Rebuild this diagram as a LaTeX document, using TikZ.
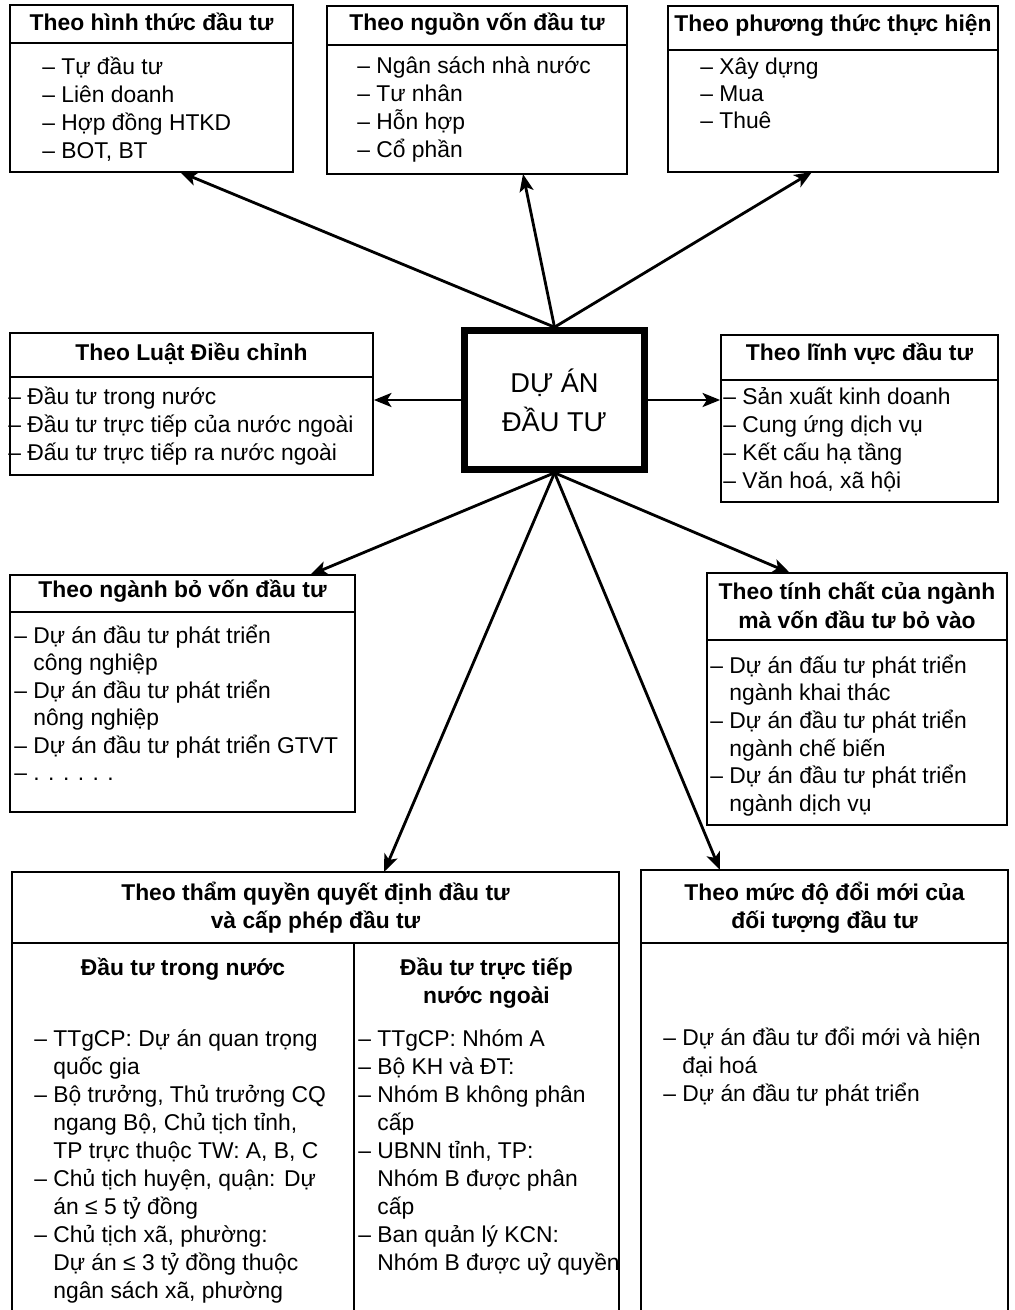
\documentclass[tikz,border=0pt]{standalone}
\usepackage{fontspec}
\setmainfont{Liberation Sans}
\usetikzlibrary{fit,arrows.meta,calc}
\newcommand\hx{\hphantom{– }}
\begin{document}
\begin{tikzpicture}[x=0.02cm,y=-0.02cm,
  box/.style={draw, line width=1pt, inner sep=0pt},
  cbox/.style={draw, line width=3.8pt, inner sep=0pt, align=center, font=\fontsize{15.5}{22}\selectfont},
  ttl/.style={font=\fontsize{13}{15.7}\selectfont\bfseries, inner sep=0pt, anchor=base},
  itm/.style={font=\fontsize{13}{15.7}\selectfont, inner sep=0pt, anchor=base west},
  arr/.style={line width=1.6pt, -{Stealth[length=10pt,width=8pt,inset=2.5pt]}},
  sepl/.style={line width=1pt}]
\path[use as bounding box, fill=white] (0,0) rectangle (1014,1310);

% ---- Box 1
\node[box, fit={(10,5) (293,172)}] (b1) {};
\draw[sepl] (10,43) -- (293,43);
\node[ttl] (b1h) at (151.5,31) {Theo hình thức đầu tư};
\foreach \tx [count=\i] in {– Tự đầu tư, – Liên doanh, – Hợp đồng HTKD, {– BOT, BT}}
  \node[itm] (b1i\i) at (42,{75+27.7*(\i-1)}) {\tx};

% ---- Box 2
\node[box, fit={(327,6) (627,174)}] (b2) {};
\draw[sepl] (327,45) -- (627,45);
\node[ttl] (b2h) at (477,31) {Theo nguồn vốn đầu tư};
\foreach \tx [count=\i] in {– Ngân sách nhà nước, – Tư nhân, – Hỗn hợp, – Cổ phần}
  \node[itm] (b2i\i) at (357,{74+28*(\i-1)}) {\tx};

% ---- Box 3
\node[box, fit={(668,6) (998,172)}] (b3) {};
\draw[sepl] (668,50) -- (998,50);
\node[ttl] (b3h) at (833,32) {Theo phương thức thực hiện};
\foreach \tx [count=\i] in {– Xây dựng, – Mua, – Thuê}
  \node[itm] (b3i\i) at (700,{75+27*(\i-1)}) {\tx};

% ---- Box 4
\node[box, fit={(10,333) (373,475)}] (b4) {};
\draw[sepl] (10,377) -- (373,377);
\node[ttl] (b4h) at (191.5,361) {Theo Luật Điều chỉnh};
\foreach \tx [count=\i] in {– Đầu tư trong nước, – Đầu tư trực tiếp của nước ngoài, – Đấu tư trực tiếp ra nước ngoài}
  \node[itm] (b4i\i) at (8,{405+27.5*(\i-1)}) {\tx};

% ---- Centre
\node[cbox, minimum width=3.6cm, minimum height=2.78cm] (c) at (554.5,400) {DỰ ÁN\\ĐẦU TƯ};

% ---- Box 5
\node[box, fit={(721,335) (998,502)}] (b5) {};
\draw[sepl] (721,380) -- (998,380);
\node[ttl] (b5h) at (859.5,361) {Theo lĩnh vực đầu tư};
\foreach \tx [count=\i] in {– Sản xuất kinh doanh, – Cung ứng dịch vụ, – Kết cấu hạ tầng, {– Văn hoá, xã hội}}
  \node[itm] (b5i\i) at (723,{405+27.7*(\i-1)}) {\tx};

% ---- Box 6
\node[box, fit={(10,575) (355,812)}] (b6) {};
\draw[sepl] (10,612) -- (355,612);
\node[ttl] (b6h) at (182.5,597) {Theo ngành bỏ vốn đầu tư};
\foreach \tx [count=\i] in {– Dự án đầu tư phát triển, \hx công nghiệp, – Dự án đầu tư phát triển, \hx nông nghiệp, – Dự án đầu tư phát triển GTVT, – . . . . . .}
  \node[itm] (b6i\i) at (14,{643+27.5*(\i-1)}) {\tx};

% ---- Box 7
\node[box, fit={(707,573) (1007,825)}] (b7) {};
\draw[sepl] (707,640) -- (1007,640);
\node[ttl] (b7h1) at (857,599) {Theo tính chất của ngành};
\node[ttl] (b7h2) at (857,628) {mà vốn đầu tư bỏ vào};
\foreach \tx [count=\i] in {– Dự án đấu tư phát triển, \hx ngành khai thác, – Dự án đầu tư phát triển, \hx ngành chế biến, – Dự án đầu tư phát triển, \hx ngành dịch vụ}
  \node[itm] (b7i\i) at (710,{673+27.7*(\i-1)}) {\tx};

% ---- Box 8
\node[box, fit={(12,872) (619,1330)}] (b8) {};
\draw[sepl] (12,943) -- (619,943);
\draw[sepl] (354,943) -- (354,1330);
\node[ttl] (b8h1) at (315.5,900) {Theo thẩm quyền quyết định đầu tư};
\node[ttl] (b8h2) at (315.5,928) {và cấp phép đầu tư};
\node[ttl] (b8l) at (183,975) {Đầu tư trong nước};
\node[ttl] (b8r1) at (486.5,975) {Đầu tư trực tiếp};
\node[ttl] (b8r2) at (486.5,1003) {nước ngoài};
\foreach \tx [count=\i] in {– TTgCP: Dự án quan trọng, \hx quốc gia, {– Bộ trưởng, Thủ trưởng CQ}, {\hx ngang Bộ, Chủ tịch tỉnh,}, {\hx TP trực thuộc TW: A, B, C}, {– Chủ tịch huyện, quận: Dự}, \hx án ≤ 5 tỷ đồng, {– Chủ tịch xã, phường:}, \hx Dự án ≤ 3 tỷ đồng thuộc, {\hx ngân sách xã, phường}}
  \node[itm] (b8a\i) at (34,{1046+28*(\i-1)}) {\tx};
\foreach \tx [count=\i] in {– TTgCP: Nhóm A, – Bộ KH và ĐT:, – Nhóm B không phân, \hx cấp, {– UBNN tỉnh, TP:}, \hx Nhóm B được phân, \hx cấp, – Ban quản lý KCN:, \hx Nhóm B được uỷ quyền}
  \node[itm] (b8b\i) at (358,{1046+28*(\i-1)}) {\tx};

% ---- Box 10
\node[box, fit={(641,870) (1008,1330)}] (b10) {};
\draw[sepl] (641,943) -- (1008,943);
\node[ttl] (b10h1) at (824.5,900) {Theo mức độ đổi mới của};
\node[ttl] (b10h2) at (824.5,928) {đối tượng đầu tư};
\foreach \tx [count=\i] in {– Dự án đầu tư đổi mới và hiện, \hx đại hoá, – Dự án đầu tư phát triển}
  \node[itm] (b10i\i) at (663,{1045+28*(\i-1)}) {\tx};

% ---- connectors
\coordinate (t1) at (180,172);
\coordinate (t2) at (523,174);
\coordinate (t3) at (812,172);
\coordinate (t6) at (310,575);
\coordinate (t7) at (790,573);
\coordinate (t8) at (384,872);
\coordinate (t10) at (720,870);
\draw[arr] (c.north) -- (t1);
\draw[arr] (c.north) -- (t2);
\draw[arr] (c.north) -- (t3);
\draw[arr] (c.west) -- (c.west -| b4.east);
\draw[arr] (c.east) -- (c.east -| b5.west);
\draw[arr] (c.south) -- (t6);
\draw[arr] (c.south) -- (t7);
\draw[arr] (c.south) -- (t8);
\draw[arr] (c.south) -- (t10);
\end{tikzpicture}
\end{document}
